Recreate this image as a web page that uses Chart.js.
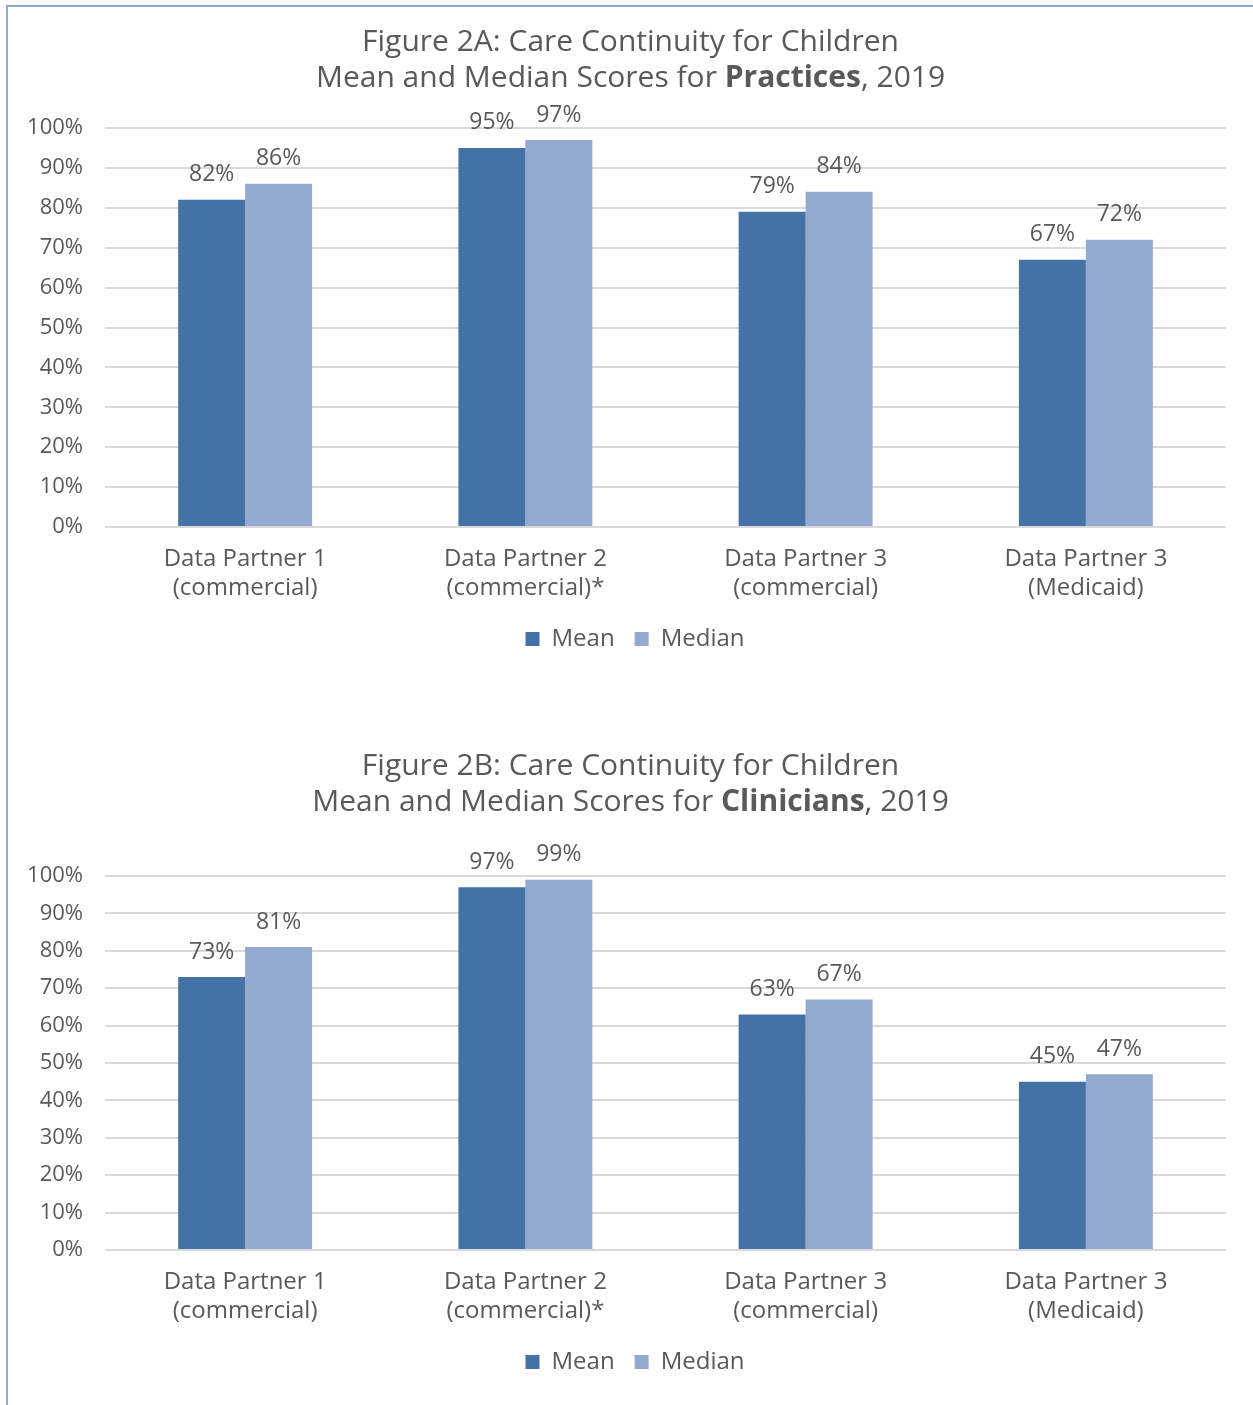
<!DOCTYPE html>
<html>
<head>
<meta charset="utf-8">
<script src="https://cdn.jsdelivr.net/npm/chart.js@4/dist/chart.umd.min.js"></script>
<style>
  body { margin: 0; background: #fff; }
  #page { position: relative; width: 1253px; height: 1405px; overflow: hidden; }
  #frame { position: absolute; left: 6px; top: 5px; width: 1260px; height: 1420px;
           border-left: 2px solid #8eaadc; border-top: 2px solid #8eaadc; }
  canvas { position: absolute; left: 0; }
  #chartA { top: 0; }
  #chartB { top: 700px; }
</style>
</head>
<body>
<div id="page">
  <div id="frame"></div>
  <canvas id="chartA" width="1253" height="700"></canvas>
  <canvas id="chartB" width="1253" height="705"></canvas>
</div>
<script>
const categories = [
    ['Data Partner 1', '(commercial)'],
    ['Data Partner 2', '(commercial)*'],
    ['Data Partner 3', '(commercial)'],
    ['Data Partner 3', '(Medicaid)']
];
const practiceMean = [82, 95, 79, 67];
const practiceMedian = [86, 97, 84, 72];
const clinicianMean = [73, 97, 63, 45];
const clinicianMedian = [81, 99, 67, 47];
const yMin = 0;
const yMax = 100;
const yStep = 10;

const FONT = "'Open Sans', 'Lato', sans-serif";
const TEXT = '#595959';
const MEAN_COLOR = '#4472a7';
const MEDIAN_COLOR = '#94a9d0';

// Two-line title where part of the second line is bold
function titlePlugin(lines, ys) {
    return {
        id: 'richTitle',
        afterDraw(chart) {
            const ctx = chart.ctx;
            ctx.save();
            ctx.fillStyle = TEXT;
            ctx.textBaseline = 'middle';
            ctx.textAlign = 'left';
            const cx = (chart.width + 8) / 2;
            lines.forEach((runs, i) => {
                let total = 0;
                runs.forEach(r => {
                    ctx.font = (r.bold ? 'bold ' : '') + '30px ' + FONT;
                    r.w = ctx.measureText(r.text).width;
                    total += r.w;
                });
                let x = cx - total / 2;
                runs.forEach(r => {
                    ctx.font = (r.bold ? 'bold ' : '') + '30px ' + FONT;
                    ctx.fillText(r.text, x, ys[i]);
                    x += r.w;
                });
            });
            ctx.restore();
        }
    };
}

// Percent labels above each bar
const valueLabels = {
    id: 'valueLabels',
    afterDatasetsDraw(chart) {
        const ctx = chart.ctx;
        ctx.save();
        ctx.fillStyle = TEXT;
        ctx.font = '23px ' + FONT;
        ctx.textAlign = 'center';
        ctx.textBaseline = 'middle';
        chart.data.datasets.forEach((ds, i) => {
            chart.getDatasetMeta(i).data.forEach((bar, j) => {
                ctx.fillText(ds.data[j] + '%', bar.x, bar.y - 25);
            });
        });
        ctx.restore();
    }
};

// Legend sits a little right of the canvas centre, under the whole frame
const legendShift = {
    id: 'legendShift',
    afterLayout(chart) {
        chart.legend.left += 22;
        chart.legend.right += 22;
    }
};

function buildChart(id, mean, median, padTop, padBottom, title, titleYs) {
    const ctx = document.getElementById(id).getContext('2d');
    return new Chart(ctx, {
        type: 'bar',
        data: {
            labels: categories,
            datasets: [
                { label: 'Mean', data: mean, backgroundColor: MEAN_COLOR },
                { label: 'Median', data: median, backgroundColor: MEDIAN_COLOR }
            ]
        },
        options: {
            responsive: false,
            animation: false,
            devicePixelRatio: 1,
            layout: { padding: { top: padTop, right: 27, bottom: padBottom, left: 0 } },
            datasets: { bar: { barPercentage: 1, categoryPercentage: 0.478 } },
            scales: {
                x: {
                    grid: { display: false },
                    border: { display: false },
                    ticks: { color: TEXT, font: { family: FONT, size: 24 }, padding: 10, maxRotation: 0 },
                    afterFit(scale) { scale.height = 80; }
                },
                y: {
                    min: yMin,
                    max: yMax,
                    border: { display: false },
                    grid: { color: '#d9d9d9', lineWidth: 2, drawTicks: false },
                    ticks: {
                        stepSize: yStep,
                        color: TEXT,
                        font: { family: FONT, size: 22 },
                        padding: 22,
                        callback: v => v + '%'
                    },
                    afterFit(scale) { scale.width = 105; }
                }
            },
            plugins: {
                title: { display: false },
                tooltip: { enabled: false },
                legend: {
                    position: 'bottom',
                    labels: {
                        color: TEXT,
                        font: { family: FONT, size: 24 },
                        boxWidth: 14,
                        boxHeight: 14,
                        padding: 20
                    }
                }
            }
        },
        plugins: [valueLabels, legendShift, titlePlugin(title, titleYs)]
    });
}

buildChart('chartA', practiceMean, practiceMedian, 128, 39, [
    [{ text: 'Figure 2A: Care Continuity for Children' }],
    [{ text: 'Mean and Median Scores for ' }, { text: 'Practices', bold: true }, { text: ', 2019' }]
], [42, 78]);

buildChart('chartB', clinicianMean, clinicianMedian, 176, 21, [
    [{ text: 'Figure 2B: Care Continuity for Children' }],
    [{ text: 'Mean and Median Scores for ' }, { text: 'Clinicians', bold: true }, { text: ', 2019' }]
], [66, 102]);
</script>
</body>
</html>
